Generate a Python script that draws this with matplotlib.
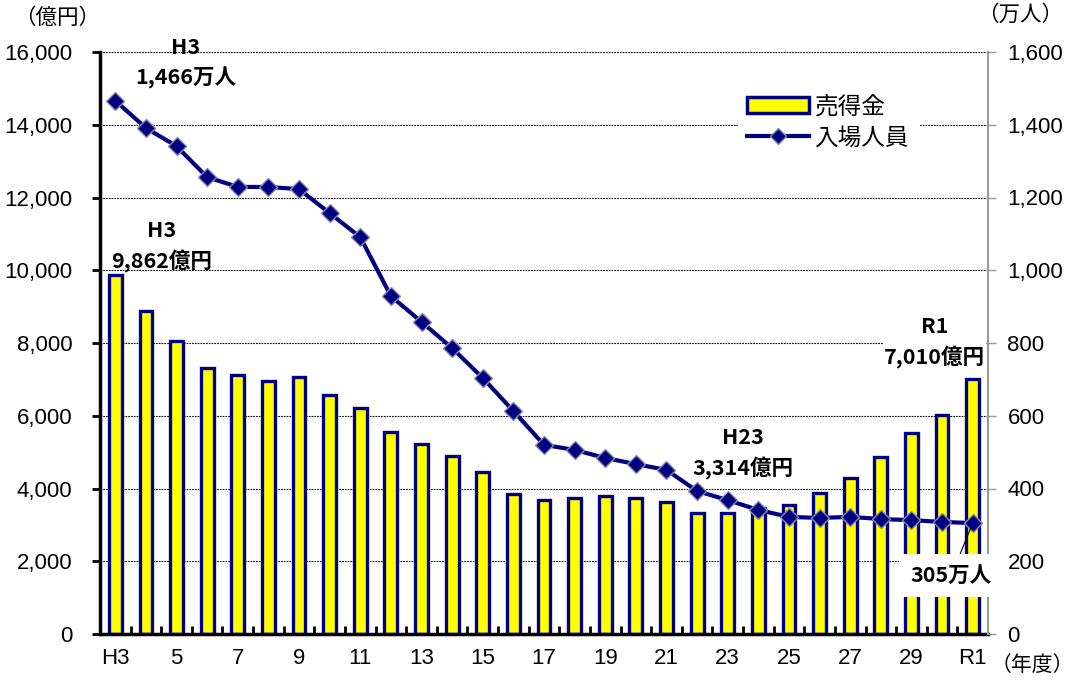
import numpy as np
import matplotlib
matplotlib.use("Agg")
import matplotlib.pyplot as plt
from matplotlib.patches import Patch
from matplotlib.lines import Line2D

plt.rcParams['font.family'] = ['Liberation Sans', 'Noto Sans CJK JP', 'DejaVu Sans']

# =========================================================
# DATA
# =========================================================
years = ["H3", "4", "5", "6", "7", "8", "9", "10", "11", "12", "13", "14", "15",
         "16", "17", "18", "19", "20", "21", "22", "23", "24", "25", "26", "27",
         "28", "29", "30", "R1"]
tick_labels = ["H3", "5", "7", "9", "11", "13", "15", "17", "19", "21", "23",
               "25", "27", "29", "R1"]

# 売得金（億円）
sales = [9862, 8880, 8055, 7313, 7120, 6955, 7065, 6570, 6213, 5553, 5223,
         4893, 4453, 3849, 3684, 3739, 3794, 3739, 3629, 3330, 3314, 3470,
         3546, 3876, 4290, 4866, 5525, 6020, 7010]

# 入場人員（万人）
visitors = [1466, 1391, 1341, 1256, 1229, 1229, 1223, 1157, 1091, 929, 858,
            786, 704, 613, 520, 506, 484, 467, 451, 393, 368, 341, 322, 319,
            322, 316, 313, 308, 305]

NAVY = "#000080"
YELLOW = "#FFFF00"
JP = ['Noto Sans CJK JP', 'DejaVu Sans']

x = np.arange(len(years))

# =========================================================
# FIGURE
# =========================================================
fig = plt.figure(figsize=(10.76, 6.8), dpi=100)
ax = fig.add_axes([100 / 1076, 46 / 680, 888 / 1076, 582 / 680])
ax2 = ax.twinx()

ax.bar(x, sales, width=0.42, color=YELLOW, edgecolor=NAVY, linewidth=2.4, zorder=2)
ax2.plot(x, visitors, '-', color=NAVY, lw=3, marker='D', markersize=9,
         markerfacecolor=NAVY, markeredgecolor='#8888aa', markeredgewidth=1, zorder=3)

ax.set_xlim(-0.5, len(years) - 0.5)
ax.set_ylim(0, 16000)
ax2.set_ylim(0, 1600)

ax.set_yticks(np.arange(0, 16001, 2000))
ax.set_yticklabels([f"{v:,}" for v in range(0, 16001, 2000)], fontsize=16)
ax2.set_yticks(np.arange(0, 1601, 200))
ax2.set_yticklabels([f"{v:,}" for v in range(0, 1601, 200)], fontsize=16)

ax.set_xticks(x[::2])
ax.set_xticklabels(tick_labels, fontsize=16)
ax.set_xticks(np.arange(0.5, len(years) - 1, 1), minor=True)
ax.tick_params(axis='x', which='major', length=0, pad=10)
ax.tick_params(axis='x', which='minor', direction='in', length=6, width=2)
ax.tick_params(axis='y', length=6, width=2, pad=14)
ax2.tick_params(axis='y', length=6, width=1, color='#999999', pad=8)

for g in range(2000, 16001, 2000):
    ax.axhline(g, color='black', lw=0.8, ls=(0, (1.5, 1)), zorder=1)

ax.spines['top'].set_visible(False)
ax2.spines['top'].set_visible(False)
ax.spines['left'].set_linewidth(2.5)
ax.spines['bottom'].set_linewidth(2.5)
ax.spines['right'].set_visible(False)
ax2.spines['left'].set_visible(False)
ax2.spines['bottom'].set_visible(False)
ax2.spines['right'].set_color('#999999')
ax2.spines['right'].set_linewidth(1.5)

# 単位
fig.text(57 / 1076, 1 - 18 / 680, "（億円）", family=JP, fontsize=15.5, ha='center', va='center')
fig.text(1020 / 1076, 1 - 15 / 680, "（万人）", family=JP, fontsize=15.5, ha='center', va='center')
fig.text(1074 / 1076, 1 - 665 / 680, "（年度）", family=JP, fontsize=15, ha='right', va='center')

# 凡例
handles = [Patch(facecolor=YELLOW, edgecolor=NAVY, linewidth=2.5),
           Line2D([0], [0], color=NAVY, lw=3, marker='D', markersize=8,
                  markerfacecolor=NAVY, markeredgecolor='#8888aa')]
leg = ax2.legend(handles, ["売得金", "入場人員"], loc='upper left',
                 bbox_to_anchor=(0.705, 0.962), frameon=True, fancybox=False,
                 edgecolor='white', facecolor='white', framealpha=1,
                 prop={'family': JP, 'size': 17}, handlelength=2.6,
                 handletextpad=0.25, labelspacing=0.35, borderpad=0.4)

# 注記
bold = dict(family=JP, fontsize=15.5, fontweight='bold', ha='center', va='center')
ax2.annotate("H3\n1,466万人", xy=(0, visitors[0]), xytext=(2.3, 1570),
             textcoords='data', linespacing=1.5, **bold)
ax.annotate("H3\n9,862億円", xy=(0, sales[0]), xytext=(1.5, 10650),
            textcoords='data', linespacing=1.5, **bold)
ax.annotate("R1\n7,010億円", xy=(28, sales[-1]), xytext=(26.75, 8020),
            textcoords='data', linespacing=1.5, **bold,
            bbox=dict(facecolor='white', edgecolor='none', pad=1))
ax.annotate("H23\n3,314億円", xy=(20, sales[20]), xytext=(20.5, 4960),
            textcoords='data', linespacing=1.5, **bold)
ax2.annotate("305万人", xy=(28, visitors[-1]), xytext=(27.3, 160),
             textcoords='data', **bold,
             bbox=dict(facecolor='white', edgecolor='none', pad=8),
             arrowprops=dict(arrowstyle='-', color='black', lw=0.8,
                             shrinkA=0, shrinkB=4))

fig.savefig("out.png", dpi=100)
